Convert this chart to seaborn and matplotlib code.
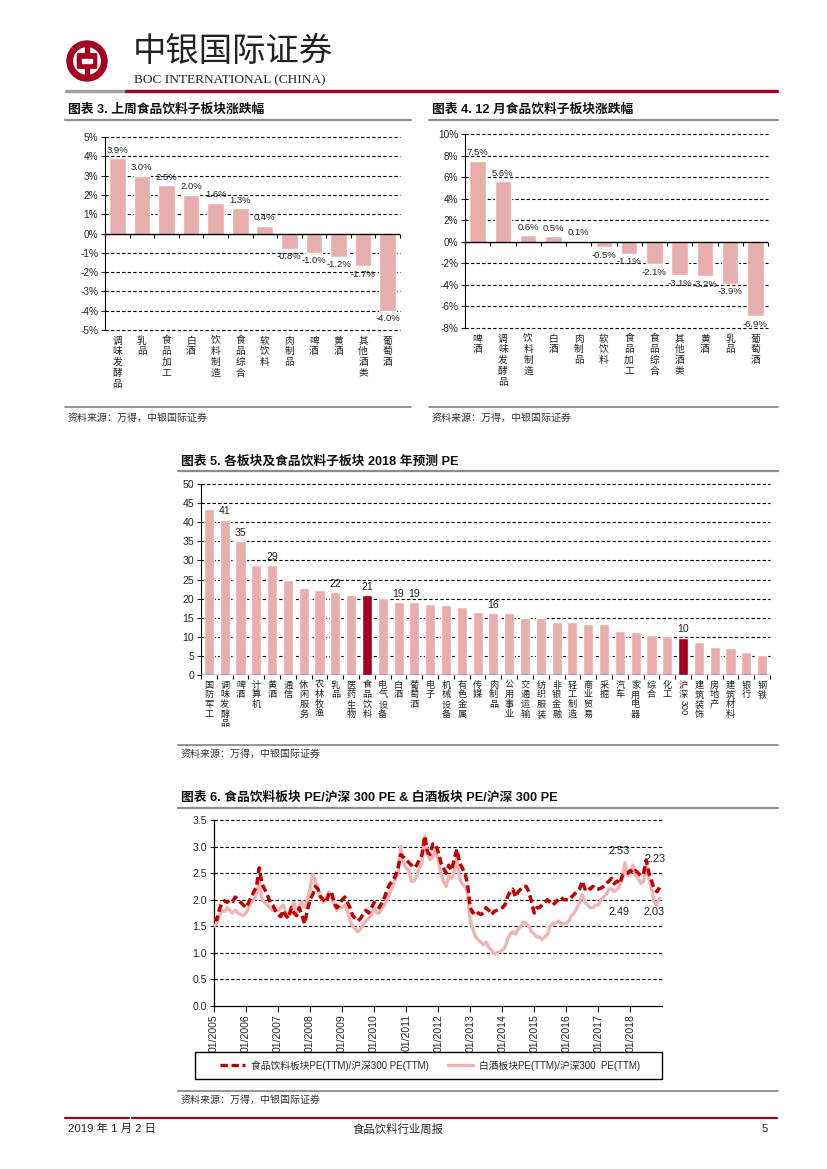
"""
Weekly food & beverage report, page 5: four charts (sub-sector moves, PE, relative PE).
"""

import matplotlib
matplotlib.use("Agg")

import matplotlib.pyplot as plt
import numpy as np
import pandas as pd
import seaborn as sns
from matplotlib import font_manager, patches
from matplotlib.lines import Line2D

W, H = 827, 1169

PINK = "#E8ADAD"
DARK = "#A50021"
RED_LINE = "#C00000"
PINK_LINE = "#F0B4B4"
RULE = "#8C8C8C"

# ---- chart 3: last week change by sub-sector (%)
WEEK_CATS = ["调味发酵品", "乳品", "食品加工", "白酒", "饮料制造", "食品综合",
             "软饮料", "肉制品", "啤酒", "黄酒", "其他酒类", "葡萄酒"]
WEEK_CHG = [3.9, 3.0, 2.5, 2.0, 1.6, 1.3, 0.4, -0.8, -1.0, -1.2, -1.7, -4.0]

# ---- chart 4: December change by sub-sector (%)
DEC_CATS = ["啤酒", "调味发酵品", "饮料制造", "白酒", "肉制品", "软饮料",
            "食品加工", "食品综合", "其他酒类", "黄酒", "乳品", "葡萄酒"]
DEC_CHG = [7.5, 5.6, 0.6, 0.5, 0.1, -0.5, -1.1, -2.1, -3.1, -3.2, -3.9, -6.9]

# ---- chart 5: 2018E PE by sector
PE_CATS = ["国防军工", "调味发酵品", "啤酒", "计算机", "黄酒", "通信", "休闲服务",
           "农林牧渔", "乳品", "医药生物", "食品饮料", "电气设备", "白酒", "葡萄酒",
           "电子", "机械设备", "有色金属", "传媒", "肉制品", "公用事业", "交通运输",
           "纺织服装", "非银金融", "轻工制造", "商业贸易", "采掘", "汽车", "家用电器",
           "综合", "化工", "沪深300", "建筑装饰", "房地产", "建筑材料", "银行", "钢铁"]
PE_VALS = [43.4, 40.7, 35.0, 28.8, 28.7, 24.9, 22.7, 22.2, 21.6, 21.0, 20.9, 20.1,
           19.1, 19.0, 18.7, 18.4, 17.7, 16.5, 16.2, 16.2, 15.0, 14.9, 14.0, 14.0,
           13.4, 13.3, 11.5, 11.2, 10.5, 10.1, 9.8, 8.6, 7.3, 7.1, 6.0, 5.2]
PE_LABELED = ["调味发酵品", "啤酒", "黄酒", "乳品", "食品饮料", "白酒", "葡萄酒", "肉制品", "沪深300"]
PE_HIGHLIGHT = ["食品饮料", "沪深300"]

# ---- chart 6: monthly relative PE, Jan 2005 - Dec 2018
FOOD_REL_PE = [
    1.65, 1.62, 1.80, 1.95, 1.98, 1.95, 2.00, 1.97, 2.05, 2.00, 1.95, 1.90,  # 2005
    1.85, 1.95, 2.05, 2.15, 2.25, 2.60, 2.30, 2.20, 2.10, 1.95, 1.90, 1.80,  # 2006
    1.72, 1.68, 1.80, 1.70, 1.65, 1.85, 1.75, 1.70, 1.85, 1.70, 1.55, 1.80,  # 2007
    2.00, 2.10, 2.25, 2.20, 2.05, 2.00, 1.95, 2.10, 2.15, 1.95, 1.85, 1.90,  # 2008
    2.00, 2.05, 1.95, 1.85, 1.70, 1.65, 1.60, 1.65, 1.75, 1.80, 1.75, 1.85,  # 2009
    1.95, 1.90, 1.85, 1.95, 2.05, 2.20, 2.30, 2.35, 2.45, 2.60, 2.85, 2.80,  # 2010
    2.75, 2.70, 2.65, 2.60, 2.65, 2.75, 2.85, 3.20, 2.90, 2.85, 3.05, 3.05,  # 2011
    2.90, 2.70, 2.60, 2.50, 2.65, 2.55, 2.75, 2.95, 2.70, 2.60, 2.50, 2.30,  # 2012
    1.85, 1.75, 1.80, 1.75, 1.72, 1.75, 1.85, 1.80, 1.72, 1.78, 1.80, 1.82,  # 2013
    1.85, 1.90, 2.05, 2.15, 2.20, 2.05, 2.15, 2.20, 2.25, 2.25, 2.15, 1.95,  # 2014
    1.75, 1.85, 1.85, 1.90, 1.95, 2.00, 1.95, 1.90, 1.95, 2.00, 2.05, 2.00,  # 2015
    2.00, 2.00, 2.05, 2.10, 2.15, 2.20, 2.35, 2.20, 2.25, 2.20, 2.25, 2.20,  # 2016
    2.20, 2.22, 2.25, 2.30, 2.35, 2.40, 2.30, 2.35, 2.30, 2.45, 2.50, 2.50,  # 2017
    2.55, 2.50, 2.55, 2.50, 2.45, 2.50, 2.75, 2.50, 2.35, 2.20, 2.15, 2.23,  # 2018
]
BAIJIU_REL_PE = [
    1.50, 1.55, 1.70, 1.80, 1.78, 1.85, 1.80, 1.75, 1.80, 1.75, 1.72, 1.70,  # 2005
    1.75, 1.85, 1.95, 2.00, 2.10, 2.35, 2.00, 1.95, 1.90, 1.85, 1.80, 1.80,  # 2006
    1.80, 1.85, 1.90, 1.75, 1.70, 1.85, 1.95, 1.75, 1.90, 1.95, 1.85, 2.00,  # 2007
    2.20, 2.48, 2.35, 2.20, 2.05, 1.95, 2.00, 2.15, 2.05, 1.90, 1.80, 1.85,  # 2008
    1.85, 1.90, 1.80, 1.60, 1.50, 1.45, 1.40, 1.45, 1.55, 1.60, 1.65, 1.70,  # 2009
    1.85, 1.75, 1.75, 1.85, 1.90, 2.00, 2.15, 2.25, 2.40, 2.50, 3.00, 2.70,  # 2010
    2.60, 2.55, 2.35, 2.35, 2.45, 2.60, 2.70, 3.20, 2.85, 2.75, 2.80, 2.95,  # 2011
    2.75, 2.50, 2.35, 2.25, 2.45, 2.40, 2.50, 2.80, 2.40, 2.30, 2.25, 2.15,  # 2012
    1.60, 1.45, 1.30, 1.25, 1.20, 1.15, 1.20, 1.10, 1.05, 0.98, 1.00, 1.02,  # 2013
    1.05, 1.10, 1.25, 1.35, 1.40, 1.35, 1.45, 1.50, 1.58, 1.55, 1.50, 1.40,  # 2014
    1.35, 1.30, 1.30, 1.25, 1.30, 1.35, 1.50, 1.55, 1.55, 1.60, 1.55, 1.55,  # 2015
    1.55, 1.60, 1.70, 1.75, 1.85, 1.95, 2.10, 1.95, 1.90, 1.85, 1.85, 1.90,  # 2016
    1.90, 2.00, 2.05, 2.10, 2.20, 2.20, 2.15, 2.20, 2.25, 2.40, 2.70, 2.45,  # 2017
    2.50, 2.65, 2.45, 2.40, 2.30, 2.35, 2.65, 2.40, 2.20, 1.95, 1.90, 2.03,  # 2018
]
FOOD_LABEL = "食品饮料板块PE(TTM)/沪深300 PE(TTM)"
BAIJIU_LABEL = "白酒板块PE(TTM)/沪深300  PE(TTM)"

SOURCE = "资料来源：万得，中银国际证券"

sns.set_theme(style="white")
_installed = {f.name for f in font_manager.fontManager.ttflist}
NARROW = "Liberation Sans Narrow" if "Liberation Sans Narrow" in _installed else "Liberation Sans"
plt.rcParams["font.family"] = ["Liberation Sans", "Noto Sans CJK SC", "DejaVu Sans"]
CJK = ["Noto Sans CJK SC", "DejaVu Sans"]
MIXED = [NARROW, "Noto Sans CJK SC", "DejaVu Sans"]


def px_axes(fig, left, top, right, bottom):
    return fig.add_axes([left / W, 1 - bottom / H, (right - left) / W, (bottom - top) / H])


def hline(fig, x0, x1, y, color, lw):
    fig.add_artist(Line2D([x0 / W, x1 / W], [1 - y / H, 1 - y / H],
                          color=color, lw=lw, transform=fig.transFigure))


def ftext(fig, x, y, s, **kw):
    fig.text(x / W, 1 - y / H, s, **kw)


def stacked_label(ax, x, label, size, linespacing=1.1):
    cjk = label.rstrip("0123456789")
    tail = label[len(cjk):]
    ax.annotate("\n".join(cjk), (x, 0), xycoords=ax.get_xaxis_transform(),
                xytext=(0, -4), textcoords="offset points", ha="center", va="top",
                fontsize=size, family=CJK, linespacing=linespacing, color="#222222")
    if tail:
        ax.annotate(tail, (x, 0), xycoords=ax.get_xaxis_transform(),
                    xytext=(0, -4 - len(cjk) * size * 1.08), textcoords="offset points",
                    ha="center", va="top", rotation=270, fontsize=size,
                    family=NARROW, color="#222222")


def bar_panel(ax, cats, vals, colors, width, yticks, tick_fmt, label_fmt,
              labeled=None, label_size=6.8, cat_size=7.0, tick_size=7.2):
    df = pd.DataFrame({"板块": cats, "值": vals})
    sns.barplot(data=df, x="板块", y="值", hue="板块", palette=colors, legend=False,
                width=width, saturation=1, ax=ax, zorder=2)
    n = len(cats)
    ax.set_xlim(-0.5, n - 0.5)
    ax.set_ylim(yticks[0], yticks[-1])
    ax.set_yticks(yticks)
    ax.set_yticklabels([tick_fmt(t) for t in yticks], fontsize=tick_size, family=NARROW)
    ax.set_xticks([])
    ax.set_xlabel("")
    ax.set_ylabel("")
    for t in yticks:
        if t != 0:
            ax.axhline(t, color="black", lw=0.8, ls=(0, (3, 2)), zorder=1, clip_on=False)
    ax.axhline(0, color="black", lw=1.0, zorder=3)
    for side in ["top", "right", "bottom"]:
        ax.spines[side].set_visible(False)
    ax.spines["left"].set_color("black")
    ax.spines["left"].set_linewidth(0.8)
    ax.tick_params(axis="y", left=True, length=3, width=0.8, direction="out", pad=2)
    ax.set_facecolor("none")

    bbox = ax.get_position()
    dy = (yticks[-1] - yticks[0]) * 4 / (bbox.height * H)
    ax.vlines(np.arange(n + 1) - 0.5, 0, -dy, color="black", lw=0.8, clip_on=False, zorder=3)

    for i, (c, v) in enumerate(zip(cats, vals)):
        if labeled is None or c in labeled:
            ax.annotate(label_fmt(v), (i, v), xytext=(0, 2.5 if v >= 0 else -2.5),
                        textcoords="offset points", ha="center",
                        va="bottom" if v >= 0 else "top",
                        fontsize=label_size, family=NARROW, color="#222222")
        stacked_label(ax, i, c, cat_size)


def header(fig):
    logo = px_axes(fig, 66, 40, 108, 82)
    logo.set_xlim(-1.05, 1.05)
    logo.set_ylim(-1.05, 1.05)
    logo.set_aspect("equal")
    logo.axis("off")
    logo.add_patch(patches.Wedge((0, 0), 1.0, 0, 360, width=0.27, color=DARK))
    logo.add_patch(patches.Rectangle((-0.1, 0.3), 0.2, 0.5, color=DARK))
    logo.add_patch(patches.Rectangle((-0.1, -0.8), 0.2, 0.5, color=DARK))
    logo.add_patch(patches.FancyBboxPatch((-0.42, -0.3), 0.84, 0.6,
                                          boxstyle="round,pad=0.06", color=DARK))
    logo.add_patch(patches.Rectangle((-0.24, -0.12), 0.48, 0.24, color="white"))

    ftext(fig, 133, 51, "中银国际证券", fontsize=24, family=CJK, va="center",
          color="#222222")
    ftext(fig, 134, 80, "BOC INTERNATIONAL (CHINA)", fontsize=9.6,
          family=["Liberation Serif"], va="center", color="#222222")
    hline(fig, 66, 126, 91, "#A0A0A0", 2.4)
    hline(fig, 126, 777, 91, DARK, 2.4)


def panel_frame(fig, x0, x1, title_y, rule_y, src_rule_y, src_y, title):
    ftext(fig, x0 + 3, title_y, title, fontsize=9.2, weight="bold",
          family=["Liberation Sans", "Noto Sans CJK SC"], va="center", color="#111111")
    hline(fig, x0, x1, rule_y, RULE, 1.6)
    hline(fig, x0, x1, src_rule_y, RULE, 1.3)
    ftext(fig, x0 + 3, src_y, SOURCE, fontsize=7.2, family=CJK, style="italic",
          va="center", color="#333333")


def main():
    fig = plt.figure(figsize=(W / 100, H / 100), dpi=100)
    fig.patch.set_facecolor("white")

    header(fig)

    # chart 3
    panel_frame(fig, 65, 411, 110, 120, 407, 418, "图表 3. 上周食品饮料子板块涨跌幅")
    ax3 = px_axes(fig, 105, 137, 400, 330)
    bar_panel(ax3, WEEK_CATS, WEEK_CHG, [PINK] * len(WEEK_CATS), 0.68,
              list(range(-5, 6)), lambda t: f"{t}%", lambda v: f"{v:.1f}%")

    # chart 4
    panel_frame(fig, 429, 778, 110, 120, 407, 418, "图表 4. 12 月食品饮料子板块涨跌幅")
    ax4 = px_axes(fig, 465, 134, 768, 328)
    bar_panel(ax4, DEC_CATS, DEC_CHG, [PINK] * len(DEC_CATS), 0.66,
              list(range(-8, 11, 2)), lambda t: f"{t}%", lambda v: f"{v:.1f}%")

    # chart 5
    panel_frame(fig, 178, 778, 462, 471, 745, 754,
                "图表 5. 各板块及食品饮料子板块 2018 年预测 PE")
    ax5 = px_axes(fig, 201, 484, 770, 675)
    colors5 = [DARK if c in PE_HIGHLIGHT else PINK for c in PE_CATS]
    bar_panel(ax5, PE_CATS, PE_VALS, colors5, 0.64, list(range(0, 51, 5)),
              lambda t: f"{t}", lambda v: f"{round(v)}", labeled=PE_LABELED,
              label_size=7.6, cat_size=6.6, tick_size=7.6)

    # chart 6
    panel_frame(fig, 178, 778, 797, 808, 1091, 1100,
                "图表 6. 食品饮料板块 PE/沪深 300 PE & 白酒板块 PE/沪深 300 PE")
    ax6 = px_axes(fig, 214, 820, 662, 1006)
    dates = pd.date_range("2005-01-01", periods=len(FOOD_REL_PE), freq="MS")
    df6 = pd.DataFrame({"date": dates, "food": FOOD_REL_PE, "baijiu": BAIJIU_REL_PE})
    sns.lineplot(data=df6, x="date", y="baijiu", color=PINK_LINE, lw=2.4, ax=ax6, zorder=3)
    sns.lineplot(data=df6, x="date", y="food", color=RED_LINE, lw=2.5,
                 linestyle=(0, (2.2, 1.1)), ax=ax6, zorder=4)
    ax6.set_xlim(pd.Timestamp("2005-01-01"), pd.Timestamp("2018-12-28"))
    yt = [0.0, 0.5, 1.0, 1.5, 2.0, 2.5, 3.0, 3.5]
    ax6.set_ylim(0, 3.5)
    ax6.set_yticks(yt)
    ax6.set_yticklabels([f"{t:.1f}" for t in yt], fontsize=7.6, family=NARROW)
    years = pd.date_range("2005-01-01", "2018-01-01", freq="YS")
    ax6.set_xticks(years)
    ax6.set_xticklabels(years.strftime("%m/%Y"), rotation=90, fontsize=7.6, family=NARROW)
    ax6.set_xlabel("")
    ax6.set_ylabel("")
    for t in yt[1:]:
        ax6.axhline(t, color="black", lw=0.8, ls=(0, (3, 2)), zorder=1, clip_on=False)
    for side in ["top", "right"]:
        ax6.spines[side].set_visible(False)
    for side in ["left", "bottom"]:
        ax6.spines[side].set_color("black")
        ax6.spines[side].set_linewidth(0.9)
    ax6.tick_params(axis="y", left=True, length=3, width=0.8, direction="out", pad=2)
    ax6.tick_params(axis="x", bottom=True, length=4, width=0.8, direction="out", pad=2)
    for s, x, y in [("2.53", "2017-08-25", 2.92), ("2.23", "2018-10-05", 2.76),
                    ("2.49", "2017-08-25", 1.76), ("2.03", "2018-10-01", 1.77)]:
        ax6.text(pd.Timestamp(x), y, s, fontsize=7.8, family=NARROW, ha="center",
                 va="center", color="#222222")

    fig.add_artist(patches.Rectangle((195 / W, 1 - 1079 / H), (662 - 195) / W, 27 / H,
                                     transform=fig.transFigure, fill=False,
                                     ec="black", lw=1.0))
    handles = [Line2D([], [], color=RED_LINE, lw=2.4, ls=(0, (2.2, 1.1))),
               Line2D([], [], color=PINK_LINE, lw=2.4)]
    fig.legend(handles, [FOOD_LABEL, BAIJIU_LABEL], loc="center",
               bbox_to_anchor=(430 / W, 1 - 1065.5 / H), ncol=2, frameon=False,
               handlelength=2.6, handletextpad=0.6, columnspacing=2.0,
               prop={"family": MIXED, "size": 7.0})

    # footer
    hline(fig, 65, 129, 1118, DARK, 1.6)
    hline(fig, 132, 777, 1118, DARK, 1.6)
    ftext(fig, 68, 1129, "2019 年 1 月 2 日", fontsize=8.2, family=MIXED, va="center")
    ftext(fig, 398, 1129, "食品饮料行业周报", fontsize=8.2, family=CJK, va="center", ha="center")
    ftext(fig, 765, 1129, "5", fontsize=8.2, family=MIXED, va="center", ha="center")

    fig.savefig("out.png", dpi=100)
    plt.close(fig)


if __name__ == "__main__":
    main()
